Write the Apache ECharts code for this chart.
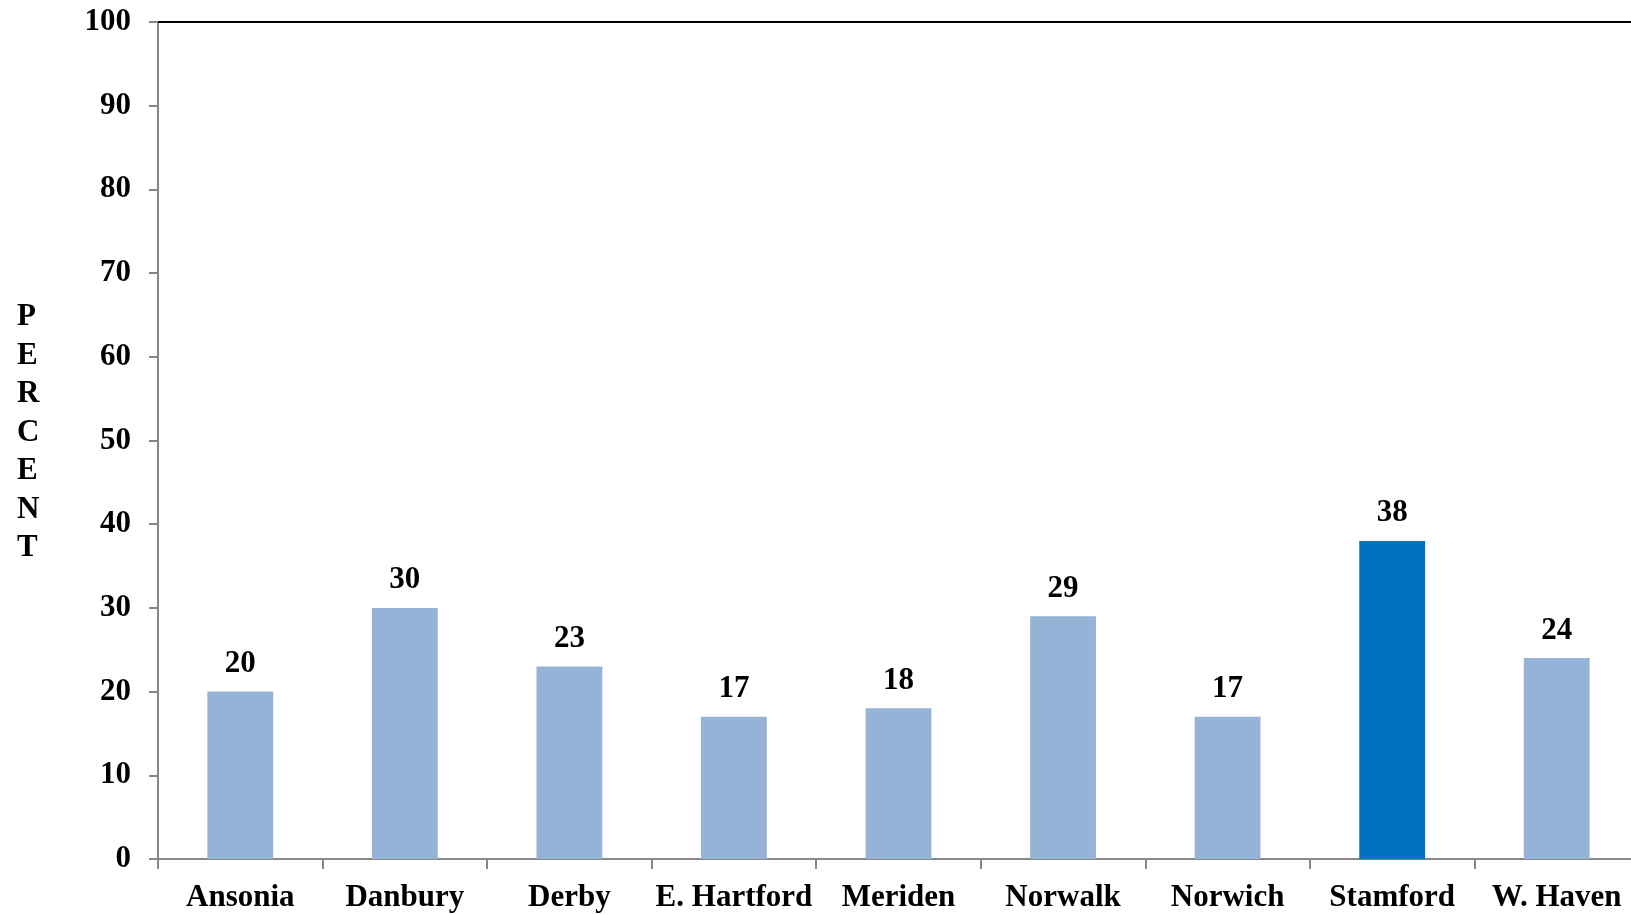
<!DOCTYPE html>
<html>
<head>
<meta charset="utf-8">
<script src="https://cdn.jsdelivr.net/npm/echarts@6/dist/echarts.min.js"></script>
<style>
  html, body { margin: 0; padding: 0; background: #fff; }
  #chart { width: 1631px; height: 915px; }
</style>
</head>
<body>
<div id="chart"></div>
<script>
var cities = ['Ansonia', 'Danbury', 'Derby', 'E. Hartford', 'Meriden', 'Norwalk', 'Norwich', 'Stamford', 'W. Haven'];
var percents = [20, 30, 23, 17, 18, 29, 17, 38, 24];
var highlightCity = 'Stamford';
var yTicks = [0, 10, 20, 30, 40, 50, 60, 70, 80, 90, 100];

var font = 'Liberation Serif, Times New Roman, serif';

var chart = echarts.init(document.getElementById('chart'));

chart.setOption({
  animation: false,
  grid: {
    left: 158,
    top: 22,
    right: -8,
    bottom: 56,
    outerBoundsMode: 'none'
  },
  graphic: [{
    type: 'text',
    left: 17,
    top: 298,
    style: {
      text: 'PERCENT'.split('').join('\n'),
      font: 'bold 31px ' + font,
      lineHeight: 38.5,
      fill: '#000',
      align: 'center'
    }
  }],
  xAxis: [{
    type: 'category',
    data: cities,
    axisLine: { lineStyle: { color: '#888', width: 2 } },
    axisTick: { show: true, length: 10, lineStyle: { color: '#888', width: 2 } },
    axisLabel: {
      interval: 0,
      margin: 23,
      color: '#000',
      fontFamily: font,
      fontWeight: 'bold',
      fontSize: 31
    }
  }, {
    type: 'category',
    position: 'top',
    data: cities,
    axisLine: { lineStyle: { color: '#000', width: 2 } },
    axisTick: { show: false },
    axisLabel: { show: false }
  }],
  yAxis: {
    type: 'value',
    min: yTicks[0],
    max: yTicks[yTicks.length - 1],
    interval: 10,
    splitLine: { show: false },
    axisLine: { show: true, lineStyle: { color: '#888', width: 2 } },
    axisTick: { show: true, length: 9, lineStyle: { color: '#888', width: 2 } },
    axisLabel: {
      margin: 27,
      color: '#000',
      fontFamily: font,
      fontWeight: 'bold',
      fontSize: 31
    }
  },
  series: [{
    type: 'bar',
    barWidth: '40%',
    data: percents.map(function (v, i) {
      return {
        value: v,
        itemStyle: { color: cities[i] === highlightCity ? '#0070C0' : '#95B3D7' }
      };
    }),
    label: {
      show: true,
      position: 'top',
      distance: 12,
      color: '#000',
      fontFamily: font,
      fontWeight: 'bold',
      fontSize: 31
    }
  }]
});
</script>
</body>
</html>
